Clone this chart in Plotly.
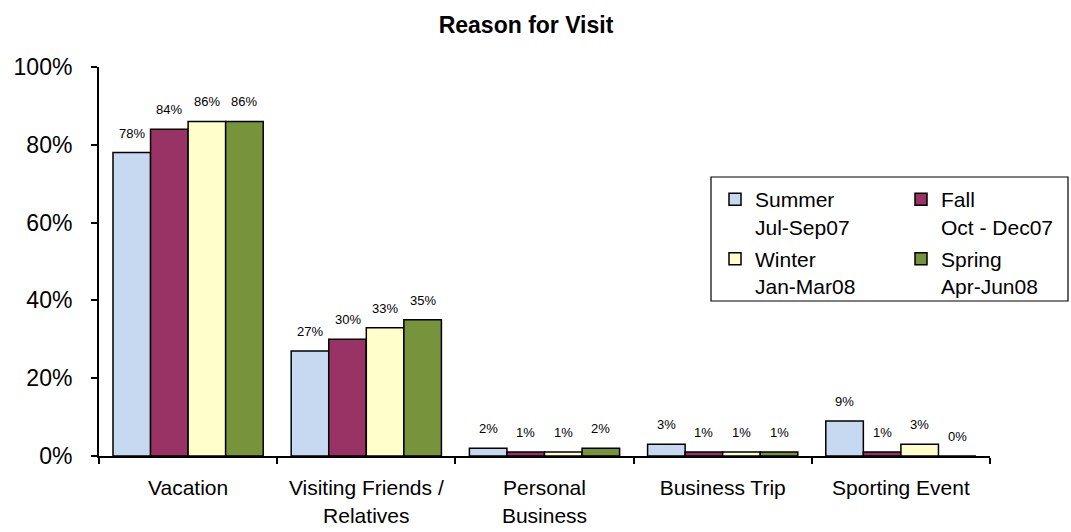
import plotly.graph_objects as go

# Reason-for-visit survey shares by season
categories = ["Vacation", "Visiting Friends /<br>Relatives", "Personal<br>Business",
              "Business Trip", "Sporting Event"]
series_names = ["Summer<br>Jul-Sep07", "Fall<br>Oct - Dec07", "Winter<br>Jan-Mar08", "Spring<br>Apr-Jun08"]
summer = [0.78, 0.27, 0.02, 0.03, 0.09]
fall = [0.84, 0.30, 0.01, 0.01, 0.01]
winter = [0.86, 0.33, 0.01, 0.01, 0.03]
spring = [0.86, 0.35, 0.02, 0.01, 0.00]
y_ticks = [0, 0.2, 0.4, 0.6, 0.8, 1.0]

colors = ["#C6D9F0", "#993366", "#FFFFCC", "#77933C"]
series = [summer, fall, winter, spring]
# two legend columns: left column holds Summer/Winter, right column Fall/Spring
legend_ids = ["legend", "legend2", "legend", "legend2"]

FONT = "Arial, Liberation Sans, sans-serif"
W, H = 1071, 532
ML, MR, MT, MB = 99, 81, 67, 76
BARGAP = 0.157
plot_w = W - ML - MR
plot_h = H - MT - MB


def px_x(p):
    return (p - ML) / plot_w


def px_y(p):
    return (H - MB - p) / plot_h


fig = go.Figure()
for i, (name, vals, col, lg) in enumerate(zip(series_names, series, colors, legend_ids)):
    fig.add_trace(go.Bar(
        x=categories, y=vals, name=name, legend=lg, legendgroup=f"g{i}",
        marker=dict(color=col, line=dict(color="black", width=1.5)),
    ))

# value labels above each bar
cat_px = plot_w / len(categories)
bar_px = cat_px * (1 - BARGAP) / len(series)
for i, vals in enumerate(series):
    dx = (i - (len(series) - 1) / 2) * bar_px
    for c, v in zip(categories, vals):
        fig.add_annotation(
            x=c, y=v, xref="x", yref="y", text=f"{round(v * 100)}%",
            showarrow=False, xshift=dx, yshift=10, yanchor="bottom",
            font=dict(family=FONT, size=13, color="black"),
        )

# frame around the two legend columns
fig.add_shape(type="rect", xref="paper", yref="paper",
              x0=px_x(711), x1=px_x(1068), y0=px_y(301), y1=px_y(177),
              line=dict(color="black", width=1.2), fillcolor="rgba(0,0,0,0)", layer="above")

legend_common = dict(
    orientation="v", xanchor="left", yanchor="top", y=px_y(179),
    bgcolor="rgba(0,0,0,0)", borderwidth=0, tracegroupgap=2, valign="top",
    font=dict(family=FONT, size=21, color="black"), itemwidth=30,
)

fig.update_layout(
    width=W, height=H,
    margin=dict(l=ML, r=MR, t=MT, b=MB, autoexpand=False),
    paper_bgcolor="white", plot_bgcolor="white",
    barmode="group", bargap=BARGAP, bargroupgap=0,
    title=dict(text="<b>Reason for Visit</b>", x=526 / W, xanchor="center",
               y=1 - 25 / H, yanchor="middle",
               font=dict(family=FONT, size=23, color="black")),
    font=dict(family=FONT, color="black"),
    showlegend=True,
    legend=dict(x=px_x(715), **legend_common),
    legend2=dict(x=px_x(901), **legend_common),
    xaxis=dict(
        automargin=False,
        showline=True, linecolor="black", linewidth=2,
        ticks="outside", tickson="boundaries", ticklen=6, tickwidth=2, tickcolor="black",
        tickfont=dict(family=FONT, size=21, color="black"), ticklabelstandoff=12,
        showgrid=False,
    ),
    yaxis=dict(
        automargin=False,
        range=[0, 1], tickvals=y_ticks, tickformat=".0%",
        showline=True, linecolor="black", linewidth=2,
        ticks="outside", ticklen=6, tickwidth=2, tickcolor="black",
        tickfont=dict(family=FONT, size=23, color="black"), ticklabelstandoff=14,
        showgrid=False, zeroline=False,
    ),
)

fig.write_html("out.html")
